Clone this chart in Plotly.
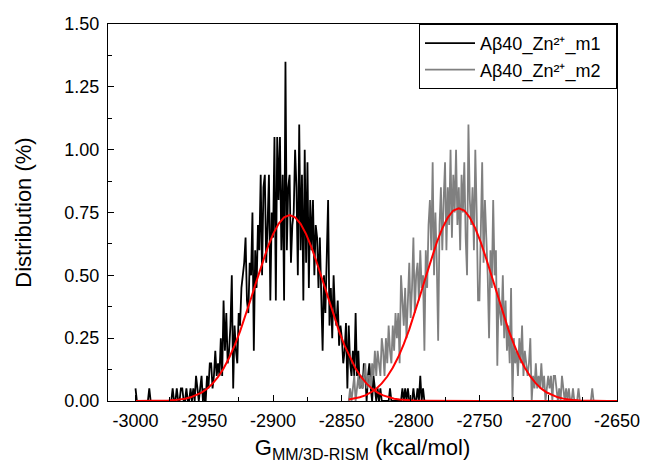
import plotly.graph_objects as go

# ---------------- data ----------------
m1_start = -3000
m1_values = [
    0.05, 0, 0, 0, 0, 0, 0, 0, 0, 0,
    0.05, 0, 0, 0, 0, 0, 0, 0, 0, 0,
    0, 0, 0, 0, 0, 0, 0, 0.05, 0, 0,
    0.05, 0, 0, 0.05, 0.05, 0, 0, 0.05, 0, 0,
    0.05, 0, 0.05, 0, 0.1, 0.05, 0, 0.05, 0.1, 0,
    0.05, 0, 0.1, 0.05, 0.15, 0.15, 0.05, 0.1, 0.2, 0.1,
    0.15, 0.1, 0.25, 0.1, 0.4, 0.2, 0.35, 0.15, 0.2, 0.3,
    0.5, 0.05, 0.3, 0.2, 0.15, 0.35, 0.3, 0.45, 0.5, 0.55,
    0.65, 0.4, 0.35, 0.55, 0.5, 0.75, 0.2, 0.6, 0.45, 0.7,
    0.6, 0.9, 0.5, 0.85, 0.9, 0.55, 0.7, 0.9, 0.4, 0.75,
    0.65, 1.05, 0.4, 1.05, 0.8, 1.05, 0.6, 0.9, 0.4, 1.35,
    0.6, 0.85, 0.9, 0.55, 0.7, 0.75, 1.0, 0.85, 0.5, 1.1,
    0.6, 0.9, 0.4, 1.0, 0.55, 0.95, 0.45, 0.8, 0.6, 0.8,
    0.5, 0.7, 0.65, 0.45, 0.65, 0.4, 0.2, 0.5, 0.35, 0.57,
    0.8, 0.3, 0.45, 0.25, 0.5, 0.35, 0.3, 0.4, 0.22, 0.3,
    0.25, 0.15, 0.2, 0.31, 0.05, 0.3, 0.15, 0.1, 0.2, 0.1,
    0.35, 0.1, 0.2, 0.05, 0.1, 0.05, 0.15, 0.1, 0, 0.1,
    0.15, 0.05, 0, 0.1, 0.05, 0, 0.05, 0, 0.05, 0,
    0, 0, 0, 0, 0, 0.05, 0, 0, 0, 0,
    0, 0, 0, 0, 0.05, 0, 0.05, 0, 0.05, 0,
    0, 0, 0.05, 0, 0, 0.05, 0, 0.1, 0, 0.05, 0,
]

m2_start = -2845
m2_values = [
    0, 0.05, 0, 0.05, 0.1, 0, 0.05, 0.1, 0.05, 0.1,
    0.05, 0.1, 0.15, 0.05, 0.1, 0.1, 0.05, 0.15, 0.1, 0.2,
    0.1, 0.2, 0.15, 0.1, 0.25, 0.2, 0.1, 0.25, 0.15, 0.3,
    0.2, 0.15, 0.3, 0.2, 0.35, 0.25, 0.35, 0.15, 0.5, 0.42,
    0.3, 0.45, 0.25, 0.4, 0.55, 0.33, 0.45, 0.65, 0.35, 0.5,
    0.55, 0.4, 0.6, 0.45, 0.5, 0.2, 0.6, 0.45, 0.7, 0.8,
    0.6, 0.95, 0.5, 0.75, 0.55, 0.24, 0.7, 0.85, 0.6, 0.8,
    0.95, 0.6, 0.85, 0.7, 1.0, 0.65, 0.9, 0.75, 1.0, 0.7,
    0.85, 0.6, 0.9, 0.75, 0.95, 0.65, 0.5, 1.1, 0.8, 0.7,
    0.85, 0.6, 1.0, 0.75, 0.4, 0.4, 0.7, 0.95, 0.55, 0.8,
    0.65, 0.5, 0.25, 0.6, 0.45, 0.8, 0.5, 0.6, 0.14, 0.45,
    0.35, 0.3, 0.5, 0.25, 0.4, 0.2, 0.3, 0.15, 0.45, 0.0,
    0.25, 0.15, 0.2, 0.1, 0.25, 0.15, 0.3, 0.1, 0.2, 0.15,
    0.1, 0.15, 0.25, 0.0, 0.1, 0.05, 0.15, 0.05, 0.1, 0.05,
    0.15, 0.05, 0.1, 0, 0.05, 0.1, 0.05, 0.1, 0, 0.1,
    0.1, 0.05, 0, 0.05, 0, 0.1, 0.05, 0, 0.05, 0,
    0.05, 0, 0, 0.05, 0, 0, 0, 0.05, 0, 0,
    0, 0, 0, 0, 0, 0, 0, 0.05, 0, 0,
]

# Gaussian fit curves
fit1_x = [-3000, -2996, -2992, -2988, -2984, -2980, -2976, -2972, -2968, -2964,
          -2960, -2956, -2952, -2948, -2944, -2940, -2936, -2932, -2928, -2924,
          -2920, -2916, -2912, -2908, -2904, -2900, -2896, -2892, -2888, -2884,
          -2880, -2876, -2872, -2868, -2864, -2860, -2856, -2852, -2848, -2844,
          -2840, -2836, -2832, -2828, -2824, -2820, -2816, -2812, -2808, -2804,
          -2800, -2796, -2792, -2788, -2784, -2780, -2750, -2700, -2650]
fit1_y = [0.0001, 0.0001, 0.0002, 0.0004, 0.0007, 0.0012, 0.0021, 0.0035, 0.0058, 0.0093,
          0.0146, 0.0224, 0.0333, 0.0485, 0.0689, 0.0955, 0.129, 0.171, 0.220, 0.277,
          0.341, 0.409, 0.478, 0.547, 0.610, 0.664, 0.705, 0.731, 0.740, 0.731,
          0.705, 0.664, 0.610, 0.547, 0.478, 0.409, 0.341, 0.277, 0.220, 0.171,
          0.129, 0.0955, 0.0689, 0.0485, 0.0333, 0.0224, 0.0146, 0.0093, 0.0058, 0.0035,
          0.0021, 0.0012, 0.0007, 0.0004, 0.0002, 0.0001, 0.0, 0.0, 0.0]

fit2_x = [-2845, -2841, -2837, -2833, -2829, -2825, -2821, -2817, -2813, -2809,
          -2805, -2801, -2797, -2793, -2789, -2785, -2781, -2777, -2773, -2769,
          -2765, -2761, -2757, -2753, -2749, -2745, -2741, -2737, -2733, -2729,
          -2725, -2721, -2717, -2713, -2709, -2705, -2701, -2697, -2693, -2689,
          -2685, -2681, -2677, -2673, -2669, -2665, -2661, -2657, -2653, -2650]
fit2_y = [0.0058, 0.0094, 0.0147, 0.0226, 0.0338, 0.0492, 0.0701, 0.0975, 0.132, 0.175,
          0.226, 0.285, 0.351, 0.422, 0.494, 0.565, 0.631, 0.687, 0.730, 0.758,
          0.767, 0.758, 0.730, 0.687, 0.631, 0.565, 0.494, 0.422, 0.351, 0.285,
          0.226, 0.175, 0.132, 0.0975, 0.0701, 0.0492, 0.0338, 0.0226, 0.0147, 0.0094,
          0.0058, 0.0035, 0.0021, 0.0012, 0.0007, 0.0004, 0.0002, 0.0001, 0.0001, 0.0]

x_tick_vals = [-3000, -2950, -2900, -2850, -2800, -2750, -2700, -2650]
x_tick_labels = ["-3000", "-2950", "-2900", "-2850", "-2800", "-2750", "-2700", "-2650"]
y_tick_vals = [0.0, 0.25, 0.5, 0.75, 1.0, 1.25, 1.5]

series_names = ["A\u03b240_Zn\u00b2\u207a_m1", "A\u03b240_Zn\u00b2\u207a_m2"]

m1_x = [m1_start + i for i in range(len(m1_values))]
m2_x = [m2_start + i for i in range(len(m2_values))]

FONT = "Liberation Sans, Arial, sans-serif"

fig = go.Figure()
fig.add_trace(go.Scatter(x=m1_x, y=m1_values, mode="lines",
                         name=series_names[0] + "\u00a0\u00a0",
                         line=dict(color="#000000", width=1.8)))
fig.add_trace(go.Scatter(x=m2_x, y=m2_values, mode="lines",
                         name=series_names[1] + "\u00a0\u00a0",
                         line=dict(color="#808080", width=1.8)))
fig.add_trace(go.Scatter(x=fit1_x, y=fit1_y, mode="lines", showlegend=False,
                         line=dict(color="#ff0000", width=2)))
fig.add_trace(go.Scatter(x=fit2_x, y=fit2_y, mode="lines", showlegend=False,
                         line=dict(color="#ff0000", width=2)))

fig.update_layout(
    width=652, height=468,
    margin=dict(l=108, r=26, t=24, b=65),
    paper_bgcolor="white", plot_bgcolor="white",
    font=dict(family=FONT, size=18, color="#000000"),
    showlegend=True,
    legend=dict(x=1, y=1, xanchor="right", yanchor="top",
                bordercolor="#000000", borderwidth=1, bgcolor="rgba(255,255,255,0)",
                font=dict(family=FONT, size=18, color="#000000"),
                tracegroupgap=0, itemwidth=50),
    xaxis=dict(range=[-3020, -2650], tickvals=x_tick_vals, ticktext=x_tick_labels,
               ticks="inside", ticklen=6, tickwidth=1, tickcolor="#000000",
               minor=dict(dtick=25, tick0=-3000, ticks="inside", ticklen=4, tickcolor="#000000"),
               showline=True, linecolor="#000000", linewidth=1, mirror=True,
               showgrid=False, zeroline=False,
               tickfont=dict(size=18), ticklabelstandoff=3,
               title=dict(text="G<sub><span style='font-size:16px'>MM/3D-RISM</span></sub> (kcal/mol)",
                          font=dict(size=22), standoff=10)),
    yaxis=dict(range=[0, 1.5], tickvals=y_tick_vals, tickformat=".2f",
               ticks="inside", ticklen=6, tickwidth=1, tickcolor="#000000",
               minor=dict(dtick=0.125, tick0=0, ticks="inside", ticklen=4, tickcolor="#000000"),
               showline=True, linecolor="#000000", linewidth=1, mirror=True,
               showgrid=False, zeroline=False,
               tickfont=dict(size=18), ticklabelstandoff=4,
               title=dict(text="Distribution (%)", font=dict(size=22), standoff=26)),
)

fig.write_html("out.html",
               config={"displayModeBar": False},
               post_script="document.body.style.margin='0px';document.body.style.overflow='hidden';")
